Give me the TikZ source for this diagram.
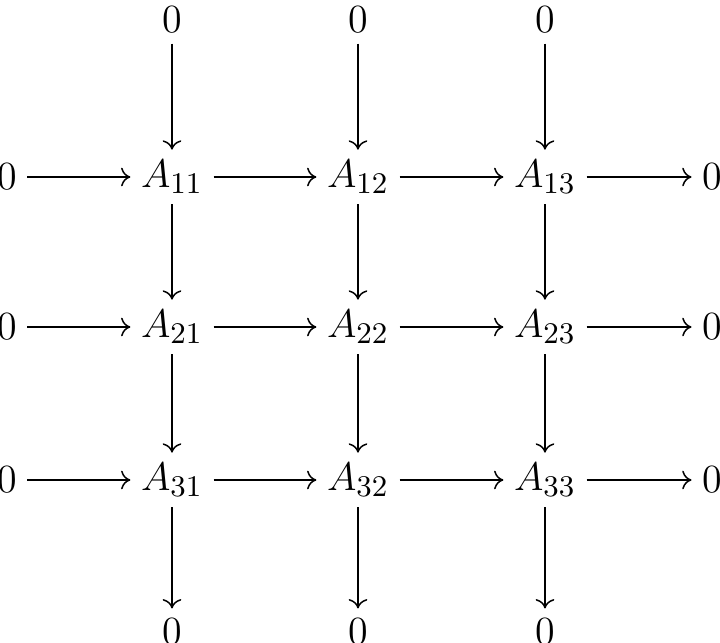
\documentclass[tikz,border=0pt]{standalone}
\usetikzlibrary{arrows.meta}
\begin{document}
\begin{tikzpicture}[x=0.3pt,y=-0.3pt,
  every node/.style={font=\fontsize{13}{15}\selectfont, inner sep=3pt},
  arr/.style={-{To[length=2.8pt,width=5.6pt]}, line width=0.45pt}]
\useasboundingbox (0,0) rectangle (720,643);
% columns and rows
\foreach \c/\x in {1/172,2/358,3/545}{
  \node (t\c) at (\x,20) {$0$};
  \node (b\c) at (\x,632) {$0$};
}
\foreach \r/\y in {1/177,2/327,3/480}{
  \node (l\r) at (7,\y) {$0$};
  \node (r\r) at (712,\y) {$0$};
}
\foreach \r/\y in {1/177,2/327,3/480}{
  \foreach \c/\x in {1/172,2/358,3/545}{
    \node (a\r\c) at (\x,\y) {$A_{\r\c}$};
  }
}
% horizontal arrows
\foreach \r in {1,2,3}{
  \draw[arr] (l\r) -- (a\r1);
  \draw[arr] (a\r1) -- (a\r2);
  \draw[arr] (a\r2) -- (a\r3);
  \draw[arr] (a\r3) -- (r\r);
}
% vertical arrows
\foreach \c in {1,2,3}{
  \draw[arr] (t\c) -- (a1\c);
  \draw[arr] (a1\c) -- (a2\c);
  \draw[arr] (a2\c) -- (a3\c);
  \draw[arr] (a3\c) -- (b\c);
}
\end{tikzpicture}
\end{document}
